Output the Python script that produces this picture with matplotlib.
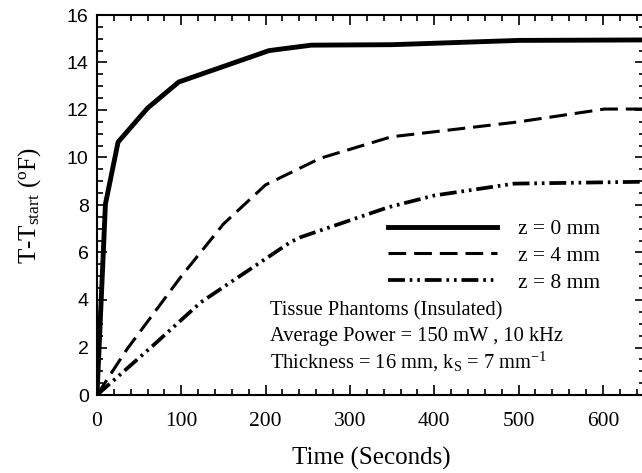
import matplotlib
matplotlib.use("Agg")
import matplotlib.pyplot as plt
from matplotlib.ticker import MultipleLocator

plt.rcParams['mathtext.fontset'] = 'custom'
plt.rcParams['mathtext.rm'] = 'Liberation Serif'
plt.rcParams['mathtext.it'] = 'Liberation Serif:italic'

SERIF = 'Liberation Serif'
SANS = 'Liberation Sans'

t0 = [0, 10, 25, 60, 97, 204, 254, 350, 500, 650]
z0 = [0, 8.04, 10.65, 12.08, 13.18, 14.5, 14.73, 14.75, 14.93, 14.95]

t4 = [0, 35, 100, 150, 200, 265, 349, 500, 602, 650]
z4 = [0, 1.9, 5.0, 7.2, 8.85, 9.97, 10.87, 11.5, 12.04, 12.04]

t8 = [0, 67, 123, 230, 242, 345, 400, 495, 650]
z8 = [0, 2.1, 3.9, 6.45, 6.65, 7.9, 8.4, 8.9, 8.98]

labels = ['z = 0 mm', 'z = 4 mm', 'z = 8 mm']
note_lines = ['Tissue Phantoms (Insulated)',
              'Average Power = 150 mW , 10 kHz',
              r'Thickness = 16 mm, k$_{\mathrm{S}}$ = 7 mm$^{\mathrm{-1}}$']

fig = plt.figure(figsize=(6.42, 4.73), dpi=100)
ax = fig.add_axes([97/642, 78/473, 548/642, 380/473])

l0, = ax.plot(t0, z0, color='black', lw=3.5, solid_joinstyle='round')
l4, = ax.plot(t4, z4, color='black', lw=2.2, dashes=(5.8, 2.6))
l8, = ax.plot(t8, z8, color='black', lw=2.7, dashes=(4.5, 1.3, 0.7, 1.3, 0.7, 1.3))

ax.set_xlim(0, 650)
ax.set_ylim(0, 16)
ax.xaxis.set_major_locator(MultipleLocator(100))
ax.xaxis.set_minor_locator(MultipleLocator(20))
ax.yaxis.set_major_locator(MultipleLocator(2))
ax.yaxis.set_minor_locator(MultipleLocator(0.5))
ax.tick_params(which='both', direction='in', top=True, right=True, width=1.2)
ax.tick_params(which='major', length=7)
ax.tick_params(which='minor', length=4)
for s in ax.spines.values():
    s.set_linewidth(1.5)

for lab in ax.get_xticklabels():
    lab.set_fontfamily(SERIF)
    lab.set_fontsize(15.5)
for lab in ax.get_yticklabels():
    lab.set_fontfamily(SANS)
    lab.set_fontsize(14)
ax.tick_params(axis='x', pad=12)
ax.tick_params(axis='y', pad=6)

ax.set_xlabel('Time (Seconds)', fontfamily=SERIF, fontsize=18, labelpad=11.5)
ax.set_ylabel(r'T-T$_{\mathrm{start}}$ ($^{\mathrm{o}}$F)', fontfamily=SERIF, fontsize=18,
              labelpad=17)

ax.legend([l0, l4, l8], labels, loc='upper left',
          bbox_to_anchor=(388/642, 1 - 219/473), bbox_transform=fig.transFigure,
          borderaxespad=0, borderpad=0,
          frameon=False, handlelength=5.05, handletextpad=1.0, labelspacing=0.32,
          prop={'family': SERIF, 'size': 15.5})

for i, line in enumerate(note_lines):
    fig.text(270/642, 1 - (315 + 26.5*i)/473, line, fontfamily=SERIF, fontsize=14.8,
             va='baseline', ha='left')

fig.savefig('out.png', dpi=100)
